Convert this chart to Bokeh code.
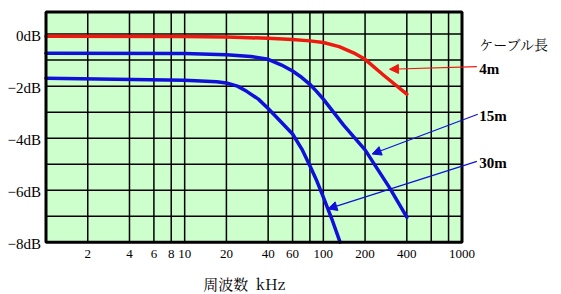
import math
from bokeh.plotting import figure
from bokeh.models import Range1d, Arrow, NormalHead
from bokeh.core.properties import value
from bokeh.embed import file_html
from bokeh.resources import INLINE

# ---- data ----
freq_4m = [1, 10, 20, 40, 60, 80, 100, 130, 165, 200, 275, 400]
db_4m = [-0.08, -0.09, -0.11, -0.16, -0.21, -0.26, -0.32, -0.48, -0.72, -0.97, -1.60, -2.31]

freq_15m = [1, 10, 20, 30, 40, 50, 60, 70, 80, 90, 100, 140, 200, 300, 400]
db_15m = [-0.74, -0.75, -0.79, -0.86, -0.97, -1.19, -1.42, -1.67, -1.93, -2.22, -2.50, -3.50, -4.45, -5.90, -7.04]

freq_30m = [1, 10, 17, 20, 24, 28, 34, 40, 50, 60, 70, 80, 90, 100, 115, 132]
db_30m = [-1.70, -1.77, -1.83, -1.88, -2.00, -2.20, -2.50, -2.86, -3.40, -3.84, -4.42, -5.06, -5.66, -6.27, -7.10, -8.0]

x_tick_values = [2, 4, 6, 8, 10, 20, 40, 60, 100, 200, 400, 1000]
x_tick_labels = ["2", "4", "6", "8", "10", "20", "40", "60", "100", "200", "400", "1000"]
x_grid_values = [2, 4, 6, 8, 10, 20, 40, 60, 80, 100, 200, 400, 600, 800]
y_tick_values = [0, -2, -4, -6, -8]
y_tick_labels = ["0dB", "\u22122dB", "\u22124dB", "\u22126dB", "\u22128dB"]
y_grid_values = [0, -1, -2, -3, -4, -5, -6, -7]

series_names = ["4m", "15m", "30m"]
title_text = "ケーブル長"
x_label_text = "周波数\u00a0\u00a0kHz"

# ---- layout (pixels) ----
W, H = 561, 294
FL, FR, FT, FB = 45.5, 461.5, 11.5, 241.7
X_MIN, X_MAX = 1, 1000
Y_MIN, Y_MAX = -8, 0.85
dec_px = (FR - FL) / math.log10(X_MAX / X_MIN)
x_lo = X_MIN * 10 ** (-FL / dec_px)
x_hi = X_MAX * 10 ** ((W - FR) / dec_px)
db_px = (FB - FT) / (Y_MAX - Y_MIN)
y_hi = Y_MAX + FT / db_px
y_lo = Y_MIN - (H - FB) / db_px

RED = "#ee1a10"
BLUE = "#1010d8"
SERIF = "Liberation Serif"
JP = "Noto Serif CJK JP"

p = figure(width=W, height=H, x_axis_type="log",
           x_range=Range1d(x_lo, x_hi), y_range=Range1d(y_lo, y_hi),
           x_axis_location=None, y_axis_location=None,
           output_backend="svg", toolbar_location=None,
           min_border=0, min_border_left=0, min_border_right=0,
           min_border_top=0, min_border_bottom=0)
p.outline_line_color = None
p.background_fill_color = "white"
p.border_fill_color = "white"
p.xgrid.visible = False
p.ygrid.visible = False

# plot area background
p.quad(left=[X_MIN], right=[X_MAX], bottom=[Y_MIN], top=[Y_MAX],
       fill_color="#ccffcc", line_color=None)

# grid lines
p.segment(x0=x_grid_values, x1=x_grid_values,
          y0=[Y_MIN] * len(x_grid_values), y1=[Y_MAX] * len(x_grid_values),
          line_color="black", line_width=1.5)
p.segment(x0=[X_MIN] * len(y_grid_values), x1=[X_MAX] * len(y_grid_values),
          y0=y_grid_values, y1=y_grid_values,
          line_color="black", line_width=1.5)

# curves
p.line(freq_4m, db_4m, line_color=RED, line_width=3.5, line_cap="round", line_join="round")
p.line(freq_15m, db_15m, line_color=BLUE, line_width=3.5, line_cap="round", line_join="round")
p.line(freq_30m, db_30m, line_color=BLUE, line_width=3.5, line_cap="round", line_join="round")

# frame border
p.quad(left=[X_MIN], right=[X_MAX], bottom=[Y_MIN], top=[Y_MAX],
       fill_color=None, line_color="black", line_width=3)

# tick labels
p.text(x=x_tick_values, y=[Y_MIN] * len(x_tick_values), text=x_tick_labels,
       text_font=value(SERIF), text_font_size="13px", text_align="center",
       text_baseline="top", y_offset=8, text_color="black")
p.text(x=[X_MIN] * len(y_tick_values), y=y_tick_values, text=y_tick_labels,
       text_font=value(SERIF), text_font_size="15px", text_align="right",
       text_baseline="middle", x_offset=-5, y_offset=1.5, text_color="black")

# axis title
p.text(x=[13.6], y=[-9.6], text=[x_label_text],
       text_font=value(JP), text_font_size="15px",
       text_align="left", text_baseline="middle", text_color="black")

# legend-like annotations
p.text(x=[1330], y=[-0.38], text=[title_text], text_font=value(JP),
       text_font_size="14px", text_align="left", text_baseline="middle", text_color="black")
p.text(x=[1330] * 3, y=[-1.34, -3.14, -4.94], text=series_names,
       text_font=value(SERIF), text_font_style="bold", text_font_size="15px",
       text_align="left", text_baseline="middle", text_color="black")

arrow_specs = [
    (1280, -1.25, 300, -1.35, RED),
    (1300, -3.08, 225, -4.61, BLUE),
    (1280, -4.89, 108, -6.72, BLUE),
]
for xs, ys, xe, ye, c in arrow_specs:
    p.add_layout(Arrow(x_start=xs, y_start=ys, x_end=xe, y_end=ye,
                       line_color=c, line_width=1.2,
                       end=NormalHead(size=9, fill_color=c, line_color=c, line_width=1)))

open("out.html", "w").write(file_html(p, INLINE))
